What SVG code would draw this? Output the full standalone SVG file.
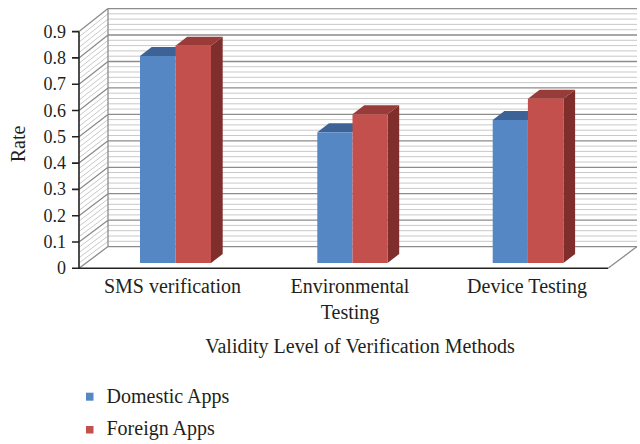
<svg xmlns="http://www.w3.org/2000/svg" width="640" height="444" viewBox="0 0 640 444">
<style>
.t{font-family:"Liberation Serif","Times New Roman",serif;fill:#231f20}
.tick{font-size:18px;text-anchor:end}
.lab{font-size:20px;text-anchor:middle}
.minor{stroke:#c9c9c9;stroke-width:1;fill:none}
.major{stroke:#8c8c8c;stroke-width:1.3;fill:none}
.axis{stroke:#222;stroke-width:1.6;fill:none}
.bf{fill:#5687c5}.bt{fill:#3d6295}
.rf{fill:#c4504d}.rt{fill:#993c39}.rs{fill:#7f2e2c}
</style>
<rect width="640" height="444" fill="#fff"/>
<g id="walls">
<path class="minor" d="M108 241.3H637M108 236H637M108 230.7H637M108 225.4H637M108 214.9H637M108 209.6H637M108 204.3H637M108 199H637M108 188.4H637M108 183.1H637M108 177.8H637M108 172.5H637M108 162H637M108 156.7H637M108 151.4H637M108 146.1H637M108 135.5H637M108 130.2H637M108 124.9H637M108 119.6H637M108 109.1H637M108 103.8H637M108 98.5H637M108 93.2H637M108 82.6H637M108 77.3H637M108 72H637M108 66.7H637M108 56.2H637M108 50.9H637M108 45.6H637M108 40.3H637M108 29.7H637M108 24.4H637M108 19.1H637M108 13.8H637"/>
<path class="minor" d="M79 263L108 241.3M79 257.8L108 236M79 252.5L108 230.7M79 247.3L108 225.4M79 236.7L108 214.9M79 231.5L108 209.6M79 226.2L108 204.3M79 221L108 199M79 210.4L108 188.4M79 205.2L108 183.1M79 199.9L108 177.8M79 194.7L108 172.5M79 184.1L108 162M79 178.9L108 156.7M79 173.6L108 151.4M79 168.4L108 146.1M79 157.8L108 135.5M79 152.6L108 130.2M79 147.3L108 124.9M79 142.1L108 119.6M79 131.5L108 109.1M79 126.3L108 103.8M79 121L108 98.5M79 115.8L108 93.2M79 105.2L108 82.6M79 100L108 77.3M79 94.7L108 72M79 89.5L108 66.7M79 78.9L108 56.2M79 73.7L108 50.9M79 68.4L108 45.6M79 63.2L108 40.3M79 52.6L108 29.7M79 47.4L108 24.4M79 42.1L108 19.1M79 36.9L108 13.8"/>
<path class="major" d="M108 246.6H637M108 220.2H637M108 193.7H637M108 167.3H637M108 140.8H637M108 114.4H637M108 87.9H637M108 61.5H637M108 35H637M108 8.6H637"/>
<path class="major" d="M79 268.3L108 246.6M79 242L108 220.2M79 215.7L108 193.7M79 189.4L108 167.3M79 163.1L108 140.8M79 136.8L108 114.4M79 110.5L108 87.9M79 84.2L108 61.5M79 57.9L108 35M79 31.6L108 8.6M108 8.6V246.6M608 268.3L637 246.6"/>
</g>
<g id="bars-sms">
<polygon class="bt" points="140,56 151.7,47 187.2,47 175.5,56"/>
<rect class="bf" x="140" y="56" width="35.5" height="207"/>
<polygon class="rt" points="175.5,45.7 187.2,36.7 222.7,36.7 211,45.7"/>
<polygon class="rs" points="211,45.7 222.7,36.7 222.7,254 211,263"/>
<rect class="rf" x="175.5" y="45.7" width="35.5" height="217.3"/>
</g>
<g id="bars-env">
<polygon class="bt" points="317.3,132.3 329,123.3 364.2,123.3 352.5,132.3"/>
<rect class="bf" x="317.3" y="132.3" width="35.2" height="130.7"/>
<polygon class="rt" points="352.5,114.3 364.2,105.3 399.2,105.3 387.5,114.3"/>
<polygon class="rs" points="387.5,114.3 399.2,105.3 399.2,254 387.5,263"/>
<rect class="rf" x="352.5" y="114.3" width="35" height="148.7"/>
</g>
<g id="bars-device">
<polygon class="bt" points="492.7,120 504.4,111 539.6,111 527.9,120"/>
<rect class="bf" x="492.7" y="120" width="35.2" height="143"/>
<polygon class="rt" points="527.9,98.7 539.6,89.7 575.1,89.7 563.4,98.7"/>
<polygon class="rs" points="563.4,98.7 575.1,89.7 575.1,254 563.4,263"/>
<rect class="rf" x="527.9" y="98.7" width="35.5" height="164.3"/>
</g>
<g id="axes">
<path class="axis" d="M79 31.6V268.3H608"/>
<path class="axis" d="M72 268.3H79M72 242H79M72 215.7H79M72 189.4H79M72 163.1H79M72 136.8H79M72 110.5H79M72 84.2H79M72 57.9H79M72 31.6H79"/>
<g class="t tick">
<text x="66" y="274.3">0</text>
<text x="66" y="248">0.1</text>
<text x="66" y="221.7">0.2</text>
<text x="66" y="195.4">0.3</text>
<text x="66" y="169.1">0.4</text>
<text x="66" y="142.8">0.5</text>
<text x="66" y="116.5">0.6</text>
<text x="66" y="90.2">0.7</text>
<text x="66" y="63.9">0.8</text>
<text x="66" y="37.6">0.9</text>
</g>
<text class="t lab" transform="translate(25,144) rotate(-90)">Rate</text>
<text class="t lab" x="172.5" y="293">SMS verification</text>
<text class="t lab" x="350" y="293">Environmental</text>
<text class="t lab" x="350" y="319">Testing</text>
<text class="t lab" x="527" y="293">Device Testing</text>
<text class="t lab" x="360" y="353">Validity Level of Verification Methods</text>
</g>
<g id="legend">
<rect class="bf" x="86" y="392.7" width="7.5" height="8"/>
<text class="t" x="106.5" y="403" font-size="20">Domestic Apps</text>
<rect class="rf" x="86" y="426" width="7.5" height="7.5"/>
<text class="t" x="106.5" y="435" font-size="20">Foreign Apps</text>
</g>
</svg>
